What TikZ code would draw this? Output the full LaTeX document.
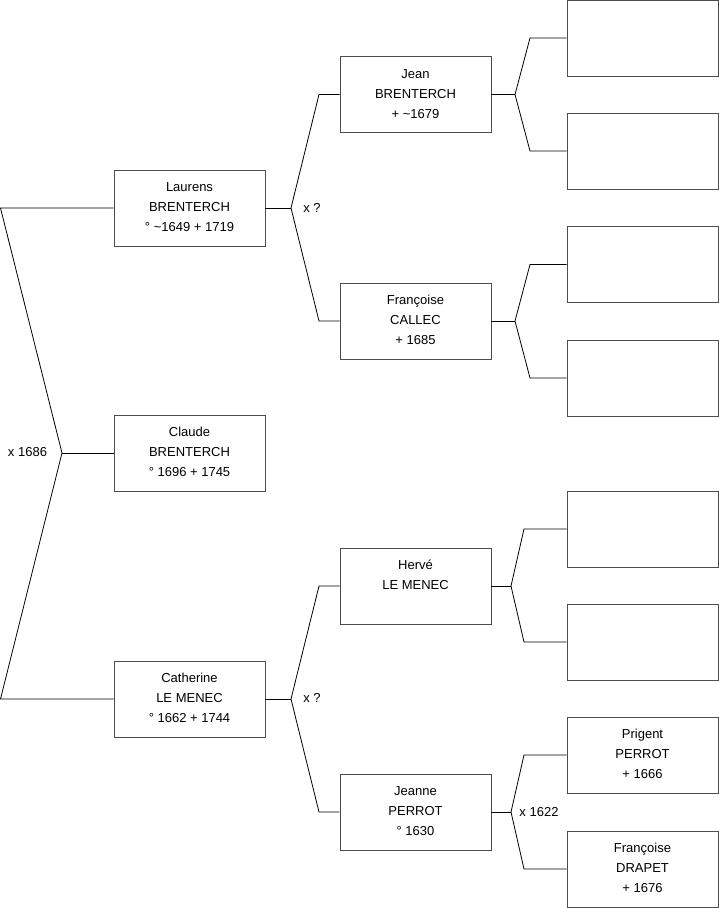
\documentclass[tikz,border=0pt]{standalone}
\usepackage{fontspec}
\setmainfont{Liberation Sans}
\newcommand{\bxtext}[1]{\parbox[c][76pt][t]{151pt}{\centering\baselineskip=20pt\rule{0pt}{21.5pt}#1\par}}
\tikzset{
  person/.style={draw=black!70, line width=0.9pt, inner sep=0pt, minimum width=151pt, minimum height=76pt, font=\fontsize{13}{20}\selectfont},
  link/.style={draw=black, line width=0.8pt},
  lbl/.style={font=\fontsize{13}{16}\selectfont, inner sep=0pt}
}
\begin{document}
\begin{tikzpicture}[x=1pt,y=-1pt]
\useasboundingbox (0,0) rectangle (719,908);
% left column
\node[person] (laurens) at (189.5,208) {\bxtext{Laurens\\BRENTERCH\\° \textasciitilde1649 + 1719}};
\node[person] (claude) at (189.5,453) {\bxtext{Claude\\BRENTERCH\\° 1696 + 1745}};
\node[person] (catherine) at (189.5,699) {\bxtext{Catherine\\LE MENEC\\° 1662 + 1744}};
% middle column
\node[person] (jean) at (415.5,94.5) {\bxtext{Jean\\BRENTERCH\\+ \textasciitilde1679}};
\node[person] (fcallec) at (415.5,321) {\bxtext{Françoise\\CALLEC\\+ 1685}};
\node[person] (herve) at (415.5,586) {\bxtext{Hervé\\LE MENEC}};
\node[person] (jeanne) at (415.5,812) {\bxtext{Jeanne\\PERROT\\° 1630}};
% right column
\node[person] (r1) at (642.5,38) {};
\node[person] (r2) at (642.5,151) {};
\node[person] (r3) at (642.5,264.5) {};
\node[person] (r4) at (642.5,378) {};
\node[person] (r5) at (642.5,529) {};
\node[person] (r6) at (642.5,642) {};
\node[person] (prigent) at (642.5,755) {\bxtext{Prigent\\PERROT\\+ 1666}};
\node[person] (fdrapet) at (642.5,869) {\bxtext{Françoise\\DRAPET\\+ 1676}};
% coordinates
\coordinate (v0) at (62,453);
\coordinate (a0) at (0.5,208);
\coordinate (b0) at (0.5,699);
\coordinate (v1) at (291,208);
\coordinate (a1) at (319,94.5);
\coordinate (b1) at (319,321);
\coordinate (v2) at (291,699);
\coordinate (a2) at (319,586);
\coordinate (b2) at (319,812);
\coordinate (v3) at (515,94.5);
\coordinate (a3) at (530,38);
\coordinate (b3) at (530,151);
\coordinate (v4) at (515,321);
\coordinate (a4) at (530,264.5);
\coordinate (b4) at (530,378);
\coordinate (v5) at (511,586);
\coordinate (a5) at (524,529);
\coordinate (b5) at (524,642);
\coordinate (v6) at (511,812);
\coordinate (a6) at (524,755);
\coordinate (b6) at (524,869);
% connectors
\draw[link] (laurens.west) -- (a0) -- (v0) -- (b0) -- (catherine.west);
\draw[link] (v0) -- (claude.west);
\draw[link] (laurens.east) -- (v1);
\draw[link] (jean.west) -- (a1) -- (v1) -- (b1) -- (fcallec.west);
\draw[link] (catherine.east) -- (v2);
\draw[link] (herve.west) -- (a2) -- (v2) -- (b2) -- (jeanne.west);
\draw[link] (jean.east) -- (v3);
\draw[link] (r1.west) -- (a3) -- (v3) -- (b3) -- (r2.west);
\draw[link] (fcallec.east) -- (v4);
\draw[link] (r3.west) -- (a4) -- (v4) -- (b4) -- (r4.west);
\draw[link] (herve.east) -- (v5);
\draw[link] (r5.west) -- (a5) -- (v5) -- (b5) -- (r6.west);
\draw[link] (jeanne.east) -- (v6);
\draw[link] (prigent.west) -- (a6) -- (v6) -- (b6) -- (fdrapet.west);
% labels
\node[lbl] (m0) at (27.5,452) {x 1686};
\node[lbl] (m1) at (312,208) {x ?};
\node[lbl] (m2) at (312,698) {x ?};
\node[lbl] (m3) at (539,812) {x 1622};
\end{tikzpicture}
\end{document}
